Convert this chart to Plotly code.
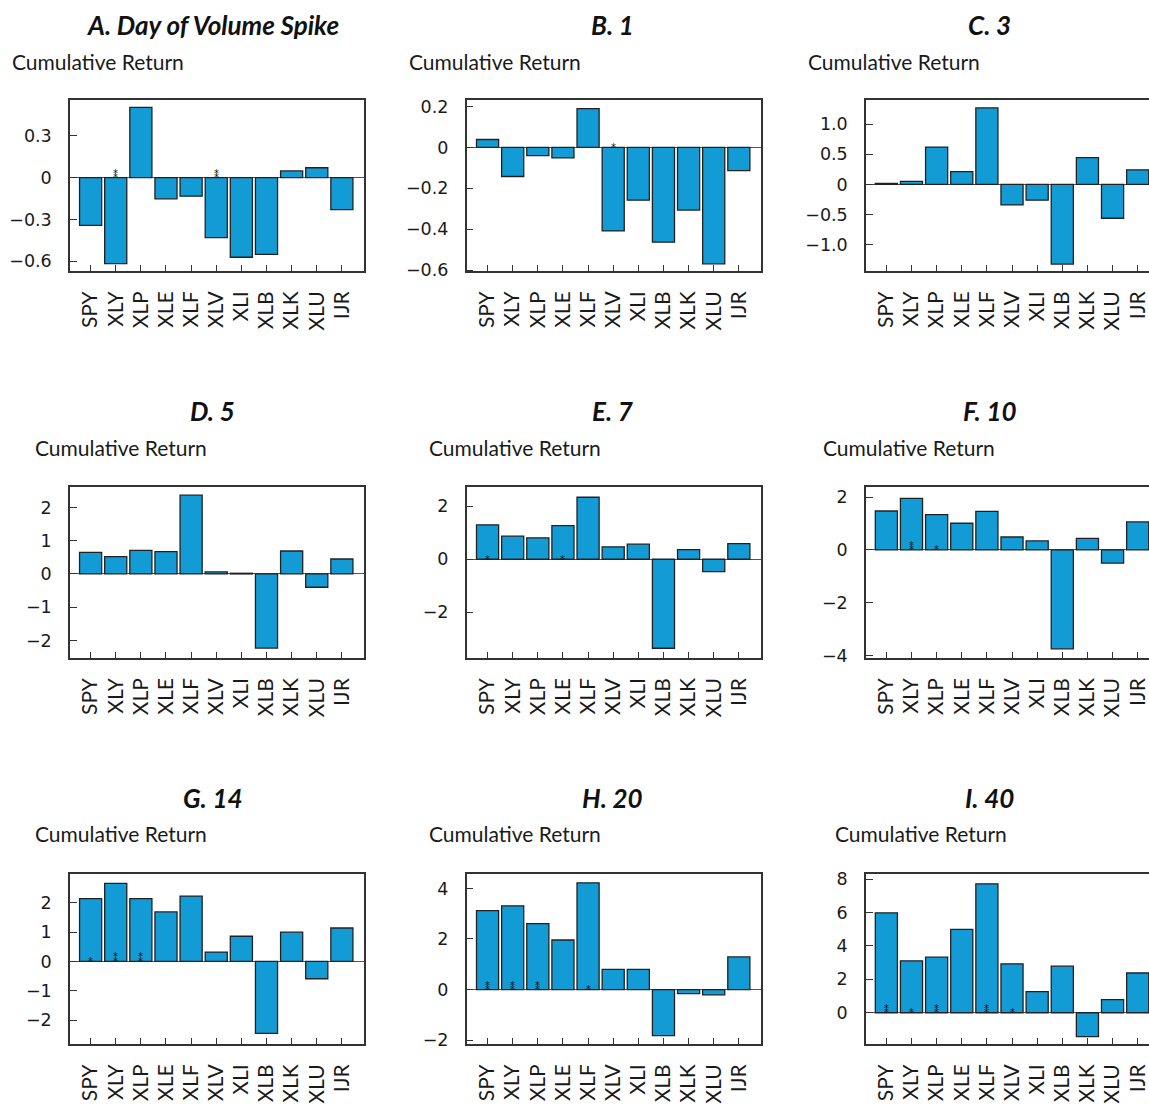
import plotly.graph_objects as go

# ---------------- data ----------------
tickers = ["SPY", "XLY", "XLP", "XLE", "XLF", "XLV", "XLI", "XLB", "XLK", "XLU", "IJR"]
titles = ["A. Day of Volume Spike", "B. 1", "C. 3", "D. 5", "E. 7", "F. 10", "G. 14", "H. 20", "I. 40"]
y_label = "Cumulative Return"

ret_A = [-0.343, -0.617, 0.505, -0.152, -0.133, -0.431, -0.571, -0.550, 0.048, 0.071, -0.229]
ret_B = [0.039, -0.142, -0.040, -0.051, 0.190, -0.408, -0.258, -0.463, -0.306, -0.569, -0.113]
ret_C = [0.016, 0.050, 0.620, 0.214, 1.270, -0.340, -0.260, -1.320, 0.445, -0.560, 0.242]
ret_D = [0.65, 0.52, 0.71, 0.67, 2.37, 0.06, 0.02, -2.23, 0.69, -0.40, 0.45]
ret_E = [1.30, 0.87, 0.81, 1.27, 2.34, 0.47, 0.57, -3.36, 0.36, -0.47, 0.59]
ret_F = [1.475, 1.95, 1.34, 1.01, 1.46, 0.49, 0.34, -3.74, 0.44, -0.50, 1.06]
ret_G = [2.14, 2.66, 2.14, 1.69, 2.23, 0.32, 0.86, -2.45, 1.00, -0.59, 1.14]
ret_H = [3.12, 3.31, 2.61, 1.96, 4.22, 0.80, 0.80, -1.82, -0.16, -0.21, 1.29]
ret_I = [5.98, 3.11, 3.33, 4.99, 7.72, 2.93, 1.27, 2.79, -1.43, 0.79, 2.38]
returns = [ret_A, ret_B, ret_C, ret_D, ret_E, ret_F, ret_G, ret_H, ret_I]

stars_A = ["", "**", "", "", "", "**", "", "", "", "", ""]
stars_B = ["", "", "", "", "", "*", "", "", "", "", ""]
stars_C = ["", "", "", "", "", "", "", "", "", "", ""]
stars_D = ["", "", "", "", "", "", "", "", "", "", ""]
stars_E = ["*", "", "", "*", "", "", "", "", "", "", ""]
stars_F = ["", "**", "*", "", "", "", "", "", "", "", ""]
stars_G = ["*", "**", "**", "", "", "", "", "", "", "", ""]
stars_H = ["**", "**", "**", "", "*", "", "", "", "", "", ""]
stars_I = ["**", "*", "**", "", "**", "*", "", "", "", "", ""]
stars = [stars_A, stars_B, stars_C, stars_D, stars_E, stars_F, stars_G, stars_H, stars_I]

tickvals_y = [
    [0.3, 0, -0.3, -0.6],
    [0.2, 0, -0.2, -0.4, -0.6],
    [1.0, 0.5, 0, -0.5, -1.0],
    [2, 1, 0, -1, -2],
    [2, 0, -2],
    [2, 0, -2, -4],
    [2, 1, 0, -1, -2],
    [4, 2, 0, -2],
    [8, 6, 4, 2, 0],
]
ticktext_y = [
    ["0.3", "0", "\u22120.3", "\u22120.6"],
    ["0.2", "0", "\u22120.2", "\u22120.4", "\u22120.6"],
    ["1.0", "0.5", "0", "\u22120.5", "\u22121.0"],
    ["2", "1", "0", "\u22121", "\u22122"],
    ["2", "0", "\u22122"],
    ["2", "0", "\u22122", "\u22124"],
    ["2", "1", "0", "\u22121", "\u22122"],
    ["4", "2", "0", "\u22122"],
    ["8", "6", "4", "2", "0"],
]
y_ranges = [
    [-0.671, 0.557], [-0.605, 0.232], [-1.438, 1.40],
    [-2.53, 2.61], [-3.73, 2.72], [-4.09, 2.375],
    [-2.82, 2.99], [-2.16, 4.58], [-1.88, 8.32],
]

# ---------------- layout geometry (pixels) ----------------
W, H = 1149, 1104
col_px = [(70, 364), (466.7, 760.7), (866, 1149)]
x_ranges = [[-0.82, 10.88], [-0.83, 10.87], [-0.81, 10.45]]
row_px = [(98.7, 271), (488.5, 660.5), (877.7, 1049.3)]
title_x_px = [212.5, 612.5, 989.5]
title_y_px = [23, 412, 801]
ylab_x_px = [[10, 407, 806], [33, 427, 821], [33, 427, 833]]
ylab_y_px = [60, 448.5, 837.5]


def vy(y_px):
    """vertical pixel -> paper fraction (with small render compensation)"""
    return 1 - ((y_px - 2) / 0.9886) / H


FONT = "Lato"
TICKFONT = "DejaVu Sans"
TXT = "#1a1a1a"
LINE = "#333333"
BAR = "#139bd5"

fig = go.Figure()
layout = dict(
    width=W, height=H,
    margin=dict(l=0, r=0, t=0, b=0),
    paper_bgcolor="white", plot_bgcolor="white",
    showlegend=False, bargap=0.12,
    font=dict(family=FONT, color=TXT),
)
annotations = []

for i in range(9):
    r, c = divmod(i, 3)
    n = i + 1
    xa = "x" if n == 1 else f"x{n}"
    ya = "y" if n == 1 else f"y{n}"
    fig.add_trace(go.Bar(
        x=tickers, y=returns[i], xaxis=xa, yaxis=ya,
        marker=dict(color=BAR, line=dict(color="#222222", width=1.3)),
        hoverinfo="x+y",
    ))
    x0, x1 = col_px[c]
    y0, y1 = row_px[r]
    layout[f"xaxis{n}" if n > 1 else "xaxis"] = dict(
        domain=[x0 / W, x1 / W], anchor=ya, type="category",
        range=x_ranges[c], categoryorder="array", categoryarray=tickers,
        showline=True, linecolor=LINE, linewidth=1.5, mirror=True,
        ticks="inside", ticklen=6, tickwidth=1.2, tickcolor=LINE,
        tickangle=-90, tickfont=dict(family=FONT, size=21, color=TXT),
        ticklabelstandoff=10,
        showgrid=False, zeroline=False, fixedrange=True,
    )
    layout[f"yaxis{n}" if n > 1 else "yaxis"] = dict(
        domain=[vy(y1), vy(y0)], anchor=xa,
        range=y_ranges[i], tickvals=tickvals_y[i], ticktext=ticktext_y[i],
        showline=True, linecolor=LINE, linewidth=1.5, mirror=(c < 2),
        ticks="inside", ticklen=7, tickwidth=1.2, tickcolor=LINE,
        tickfont=dict(family=TICKFONT, size=17.5, color=TXT),
        ticklabelstandoff=13,
        showgrid=False, zeroline=True, zerolinecolor="#555555", zerolinewidth=1,
        fixedrange=True,
    )
    # panel title
    annotations.append(dict(
        text=titles[i], xref="paper", yref="paper",
        x=title_x_px[c] / W, y=vy(title_y_px[r]),
        xanchor="center", yanchor="middle", showarrow=False,
        font=dict(family=FONT, size=26, color="#111111", weight="bold", style="italic"),
    ))
    # y axis label
    annotations.append(dict(
        text=y_label, xref="paper", yref="paper",
        x=ylab_x_px[r][c] / W, y=vy(ylab_y_px[r]),
        xanchor="left", yanchor="middle", showarrow=False,
        font=dict(family=FONT, size=21, color=TXT),
    ))
    # significance stars
    for t, s in zip(tickers, stars[i]):
        for k in range(len(s)):
            annotations.append(dict(
                text="*", xref=xa, yref=ya, x=t, y=0,
                xanchor="center", yanchor="middle", showarrow=False,
                yshift=0 + 4.5 * k,
                font=dict(family=TICKFONT, size=10, color="#111111"),
            ))

layout["annotations"] = annotations
fig.update_layout(**layout)

post = (
    "document.documentElement.style.margin='0';"
    "document.documentElement.style.overflow='hidden';"
    "document.body.style.margin='0';"
    "document.body.style.overflow='hidden';"
    "var d=document.getElementById('{plot_id}');"
    "d.style.position='absolute';d.style.left='0px';d.style.top='0px';"
    "d.style.overflow='hidden';"
    "var cs=d.querySelectorAll('.plot-container, .svg-container, .main-svg');"
    "for(var j=0;j<cs.length;j++){cs[j].style.overflow='hidden';}"
)
fig.write_html("out.html", post_script=post, config={"displayModeBar": False})
